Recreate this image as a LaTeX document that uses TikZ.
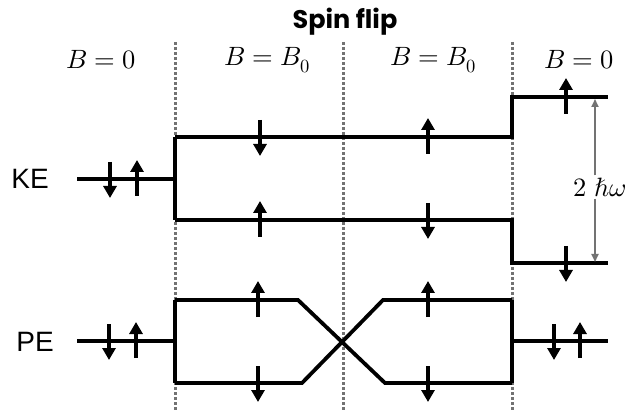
\documentclass[tikz,border=0pt]{standalone}
\usepackage{fontspec}
\usepackage{unicode-math}
\setmainfont{Liberation Sans}
\setmathfont{Latin Modern Math}
\newfontfamily\titlefont{Poppins}
\usetikzlibrary{arrows.meta}
\tikzset{
  level/.style={line width=3.8pt, black, line join=miter},
  divider/.style={line width=3pt, black!55, dash pattern=on 2.8pt off 2.2pt},
  spin/.style={line width=3.6pt, -{Triangle[width=13pt,length=12pt]}},
  dim/.style={line width=1.8pt, black!55, -{Triangle[width=7pt,length=8pt]}},
  mlabel/.style={font=\fontsize{26.5}{30}\selectfont},
  slabel/.style={font=\fontsize{28}{32}\selectfont},
}
\newcommand{\spinup}[3]{\draw[spin] (#1,#2+17) -- (#1,#2-19) coordinate (#3);}
\newcommand{\spindown}[3]{\draw[spin] (#1,#2-17) -- (#1,#2+19) coordinate (#3);}
\begin{document}
\begin{tikzpicture}[x=1pt,y=-1pt]
\useasboundingbox (0,0) rectangle (631,411);
% dividers
\foreach \xx/\nm in {175/d1,343/d2,512/d3}{
  \coordinate (\nm t) at (\xx,42);
  \coordinate (\nm b) at (\xx,411);
  \draw[divider] (\nm t) -- (\nm b);
}
% titles
\node[font=\titlefont\bfseries\fontsize{25.5}{30}\selectfont] (title) at (345,22) {Spin flip};
\node[mlabel] (b1) at (101,60) {$B=0$};
\node[mlabel] (b2) at (267,60) {$B=B_0$};
\node[mlabel] (b3) at (433,60) {$B=B_0$};
\node[mlabel] (b4) at (579,60) {$B=0$};
\node[slabel] (ke) at (30,179) {KE};
\node[slabel] (pe) at (35,342) {PE};
% KE levels
\coordinate (k0) at (77,179);
\coordinate (k1) at (175,179);
\coordinate (ka) at (175,137);
\coordinate (kb) at (175,220);
\coordinate (ka2) at (512,137);
\coordinate (ka3) at (512,97);
\coordinate (ka4) at (608,97);
\coordinate (kb2) at (512,220);
\coordinate (kb3) at (512,263);
\coordinate (kb4) at (608,263);
\draw[level] (k0) -- (k1);
\draw[level] (ka) -- (kb);
\draw[level] (ka) -- (ka2) -- (ka3) -- (ka4);
\draw[level] (kb) -- (kb2) -- (kb3) -- (kb4);
% PE levels
\coordinate (p0) at (77,341);
\coordinate (p1) at (175,341);
\coordinate (pa) at (175,300);
\coordinate (pb) at (175,383);
\coordinate (pa1) at (298,300);
\coordinate (pb1) at (302,383);
\coordinate (pa2) at (383,300);
\coordinate (pb2) at (385,383);
\coordinate (pa3) at (512,300);
\coordinate (pb3) at (512,383);
\coordinate (p2) at (512,341);
\coordinate (p3) at (608,341);
\draw[level] (p0) -- (p1);
\draw[level] (pa) -- (pb);
\draw[level] (pa) -- (pa1) -- (pb2) -- (pb3);
\draw[level] (pb) -- (pb1) -- (pa2) -- (pa3);
\draw[level] (pa3) -- (pb3);
\draw[level] (p2) -- (p3);
% spins KE
\spindown{110}{179}{s1}
\spinup{137}{179}{s2}
\spindown{260}{137}{s3}
\spinup{260}{220}{s4}
\spinup{428}{137}{s5}
\spindown{428}{220}{s6}
\spinup{566}{97}{s7}
\spindown{566}{263}{s8}
% spins PE
\spindown{109}{341}{s9}
\spinup{136}{341}{s10}
\spinup{258}{300}{s11}
\spindown{258}{383}{s12}
\spinup{428}{300}{s13}
\spindown{428}{383}{s14}
\spindown{554}{341}{s15}
\spinup{580}{341}{s16}
% energy gap
\node[mlabel, inner sep=2pt] (gap) at (600,187) {$2\;\hbar\omega$};
\coordinate (gt) at (595,99);
\coordinate (gb) at (595,262);
\draw[dim] (gap.north -| gt) -- (gt);
\draw[dim] (gap.south -| gb) -- (gb);
\end{tikzpicture}
\end{document}
